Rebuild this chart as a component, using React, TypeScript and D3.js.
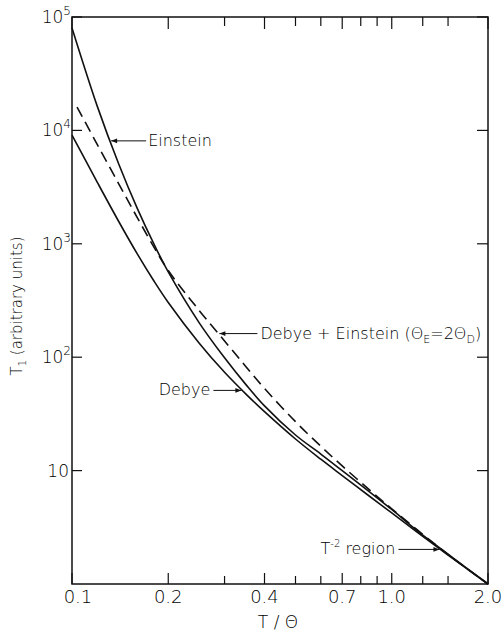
import * as d3 from "d3";

// axis ticks
const xMajor = [0.1, 0.2, 0.4, 0.7, 1.0, 2.0];
const xMajorLabels = ["0.1", "0.2", "0.4", "0.7", "1.0", "2.0"];
const xMinor = [0.3, 0.5, 0.6, 0.8, 0.9, 1.25, 1.5];
const yTicks = [10, 100, 1000, 10000, 100000];
const yTickExp = ["", "2", "3", "4", "5"];

// curves (T/Θ, T1)
const einsteinX = [0.1, 0.12, 0.14, 0.16, 0.18, 0.2, 0.25, 0.3, 0.35, 0.4, 0.5, 0.6, 0.7, 0.85, 1.0, 1.2, 1.5, 2.0];
const einsteinY = [80000, 16290, 5055, 2052, 1008, 565, 201, 98.8, 57.3, 37.2, 20.6, 14.0, 10.0, 6.54, 4.54, 2.96, 1.83, 1];

const debyeX = [0.1, 0.12, 0.14, 0.16, 0.18, 0.2, 0.25, 0.3, 0.35, 0.4, 0.5, 0.6, 0.7, 0.85, 1.0, 1.2, 1.5, 2.0];
const debyeY = [9100, 3485, 1573, 815, 475, 304, 133, 73.6, 47.3, 33.1, 19.0, 12.6, 9.04, 5.97, 4.23, 2.87, 1.80, 1];

const mixedX = [0.1037, 0.12, 0.14, 0.16, 0.18, 0.2, 0.25, 0.3, 0.35, 0.4, 0.5, 0.6, 0.7, 0.85, 1.0, 1.2, 1.5, 2.0];
const mixedY = [16070, 7498, 3381, 1702, 945, 582, 258, 139, 82.5, 53.0, 27.0, 16.4, 11.0, 6.79, 4.60, 3.01, 1.82, 1];

const W = 504;
const H = 633;
const left = 72, right = 488, top = 17, bottom = 584;
const FONT = "'DejaVu Sans', sans-serif";

const x = d3.scaleLog().domain([0.1, 2.0]).range([left, right]);
const y = d3.scaleLog().domain([1, 1e5]).range([bottom, top]);

const line = d3
  .line<[number, number]>()
  .x((d) => x(d[0]))
  .y((d) => y(d[1]))
  .curve(d3.curveCatmullRom.alpha(0.5));

const zip = (xs: number[], ys: number[]) => xs.map((v, i) => [v, ys[i]] as [number, number]);

// log-log interpolation on a series, for where an arrow touches the curve
function valueAt(xs: number[], ys: number[], xv: number) {
  for (let i = 1; i < xs.length; i++) {
    if (xv <= xs[i]) {
      const t = (Math.log(xv) - Math.log(xs[i - 1])) / (Math.log(xs[i]) - Math.log(xs[i - 1]));
      return Math.exp(Math.log(ys[i - 1]) + t * (Math.log(ys[i]) - Math.log(ys[i - 1])));
    }
  }
  return ys[ys.length - 1];
}

const Arrow = ({ x1, y1, x2, y2 }: { x1: number; y1: number; x2: number; y2: number }) => (
  <line x1={x1} y1={y1} x2={x2} y2={y2} stroke="#111" strokeWidth={1} markerEnd="url(#ah)" />
);

export default function App() {
  const eTip = [x(0.1316), y(valueAt(einsteinX, einsteinY, 0.1316))];
  const mTip = [x(0.287), y(valueAt(mixedX, mixedY, 0.287))];
  const dTip = [x(0.341), y(valueAt(debyeX, debyeY, 0.341))];
  const rTip = [x(1.42), y(valueAt(debyeX, debyeY, 1.42))];

  return (
    <svg
      width={W}
      height={H}
      style={{ position: "absolute", left: 0, top: 0, background: "#fff" }}
      fontFamily={FONT}
      fill="#000"
    >
      <defs>
        <marker id="ah" viewBox="0 0 10 10" refX={10} refY={5} markerWidth={7} markerHeight={6} orient="auto">
          <path d="M0,1 L10,5 L0,9 z" fill="#111" />
        </marker>
      </defs>

      {/* frame */}
      <rect x={left} y={top} width={right - left} height={bottom - top} fill="none" stroke="#111" strokeWidth={1.5} />

      {/* x ticks, bottom and top */}
      {xMajor.map((v) => (
        <g key={"M" + v}>
          <line x1={x(v)} x2={x(v)} y1={bottom} y2={bottom - 11} stroke="#111" strokeWidth={1.2} />
          <line x1={x(v)} x2={x(v)} y1={top} y2={top + 12} stroke="#111" strokeWidth={1.2} />
        </g>
      ))}
      {xMinor.map((v) => (
        <g key={"m" + v}>
          <line x1={x(v)} x2={x(v)} y1={bottom} y2={bottom - 8} stroke="#111" strokeWidth={1.2} />
          <line x1={x(v)} x2={x(v)} y1={top} y2={top + 9} stroke="#111" strokeWidth={1.2} />
        </g>
      ))}
      {xMajor.map((v, i) => (
        <text key={"l" + v} x={x(v) + (i === 0 ? 6 : 0)} y={603} fontSize={18} textAnchor="middle" fontWeight={300}>
          {xMajorLabels[i]}
        </text>
      ))}

      {/* y ticks, left and right */}
      {yTicks.map((v, i) => (
        <g key={"y" + v}>
          <line x1={left} x2={left + 10} y1={y(v)} y2={y(v)} stroke="#111" strokeWidth={1.2} />
          <line x1={right} x2={right - 11} y1={y(v)} y2={y(v)} stroke="#111" strokeWidth={1.2} />
          <text x={yTickExp[i] ? 71 : 69} y={y(v) + 6} fontSize={17} textAnchor="end" fontWeight={300}>
            10
            {yTickExp[i] && (
              <tspan dy={-8} fontSize={12}>
                {yTickExp[i]}
              </tspan>
            )}
          </text>
        </g>
      ))}

      {/* curves */}
      <path d={line(zip(einsteinX, einsteinY)) || ""} fill="none" stroke="#111" strokeWidth={1.6} />
      <path d={line(zip(debyeX, debyeY)) || ""} fill="none" stroke="#111" strokeWidth={1.6} />
      <path d={line(zip(mixedX, mixedY)) || ""} fill="none" stroke="#111" strokeWidth={1.6} strokeDasharray="11,6" />

      {/* annotations */}
      <Arrow x1={eTip[0] + 36} y1={eTip[1]} x2={eTip[0] + 1} y2={eTip[1]} />
      <text x={eTip[0] + 38} y={eTip[1] + 5} fontSize={16} fontWeight={300}>
        Einstein
      </text>

      <Arrow x1={mTip[0] + 39} y1={mTip[1]} x2={mTip[0] + 1} y2={mTip[1]} />
      <text x={mTip[0] + 42} y={mTip[1] + 5} fontSize={16} fontWeight={300}>
        Debye + Einstein (Θ
        <tspan dy={4} fontSize={11}>E</tspan>
        <tspan dy={-4}>=2Θ</tspan>
        <tspan dy={4} fontSize={11}>D</tspan>
        <tspan dy={-4}>)</tspan>
      </text>

      <Arrow x1={dTip[0] - 29} y1={dTip[1]} x2={dTip[0] - 1} y2={dTip[1]} />
      <text x={dTip[0] - 32} y={dTip[1] + 5} fontSize={16} textAnchor="end" fontWeight={300}>
        Debye
      </text>

      <Arrow x1={rTip[0] - 42} y1={rTip[1]} x2={rTip[0] - 1} y2={rTip[1]} />
      <text x={rTip[0] - 45} y={rTip[1] + 5} fontSize={16} textAnchor="end" fontWeight={300}>
        T
        <tspan dy={-7} fontSize={10}>-2</tspan>
        <tspan dy={7}>{"  region"}</tspan>
      </text>

      {/* axis titles */}
      <text x={278} y={628} fontSize={17} textAnchor="middle" fontWeight={300}>
        T / Θ
      </text>
      <text transform="translate(22,306) rotate(-90)" fontSize={15} textAnchor="middle" fontWeight={300}>
        T
        <tspan dy={4} fontSize={10}>1</tspan>
        <tspan dy={-4}> (arbitrary units)</tspan>
      </text>
    </svg>
  );
}
